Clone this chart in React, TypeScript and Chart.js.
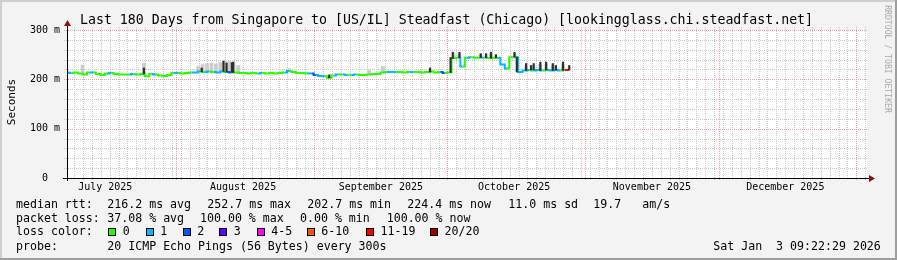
import { useEffect, useRef } from "react";
import { Chart, registerables } from "chart.js";

Chart.register(...registerables);

const DAY = 86400000;
const END = Date.UTC(2026, 0, 3, 9, 22, 29);
const START = END - 180 * DAY;

const MONTH_STARTS = [
  Date.UTC(2025, 7, 1), Date.UTC(2025, 8, 1), Date.UTC(2025, 9, 1),
  Date.UTC(2025, 10, 1), Date.UTC(2025, 11, 1), Date.UTC(2026, 0, 1),
];
const MONTH_LABEL_AT = [
  Date.UTC(2025, 6, 16), Date.UTC(2025, 7, 16), Date.UTC(2025, 8, 16),
  Date.UTC(2025, 9, 16), Date.UTC(2025, 10, 16), Date.UTC(2025, 11, 16),
];
const MONTH_LABELS = ["July 2025", "August 2025", "September 2025", "October 2025", "November 2025", "December 2025"];

const Y_TICKS = [0, 100, 200, 300];
const Y_LABELS = ["0  ", "100 m", "200 m", "300 m"];

// median rtt (ms), one sample per day from the start of the graph
const median = [
  214, 213, 214, 212, 210, 214, 214, 211, 209, 212,
  213, 211, 210, 210, 210, 211, 210, 211, 206, 211,
  210, 208, 207, 209, 213, 213, 212, 213, 214, 214,
  216, 215, 216, 215, 214, 216, 215, 214, 214, 213,
  213, 212, 213, 212, 213, 212, 213, 212, 213, 214,
  217, 215, 213, 213, 212, 212, 209, 207, 206, 203,
  208, 210, 210, 209, 209, 210, 209, 209, 210, 211,
  211, 214, 215, 215, 215, 215, 214, 215, 215, 215,
  214, 215, 216, 214, 215, 213, 214, 243, 244, 226,
  244, 245, 244, 244, 244, 243, 244, 243, 230, 222,
  245, 245, 215, 218, 219, 218, 219, 218, 219, 218,
  219, 218, 219, 219,
];
// loss class per sample: 0="0",1="1",2="2",3="3",4="4-5",5="6-10",6="11-19",7="20/20"
const loss = [
  0, 1, 0, 0, 0, 0, 1, 0, 0, 0,
  1, 0, 0, 0, 0, 1, 0, 0, 0, 0,
  1, 0, 0, 0, 0, 1, 0, 0, 0, 1,
  1, 0, 1, 0, 1, 1, 0, 2, 0, 0,
  0, 0, 0, 0, 1, 0, 0, 0, 0, 0,
  1, 0, 0, 0, 0, 1, 2, 1, 1, 0,
  0, 1, 0, 1, 0, 1, 0, 0, 0, 0,
  0, 0, 0, 1, 1, 0, 0, 0, 1, 0,
  0, 0, 0, 0, 0, 2, 0, 0, 0, 1,
  0, 1, 0, 0, 1, 0, 0, 0, 1, 1,
  0, 0, 1, 1, 1, 0, 1, 1, 0, 1,
  1, 1, 0, 6,
];

// light smoke (day offset, low, high)
const smokeDays = [3.5, 17.3, 29.5, 30.5, 31.5, 32.5, 33.5, 34.5, 35.5, 36.5, 37.5, 38.5, 50, 68, 71.1, 87, 88.3, 93, 95.4, 100.7, 103.3, 105, 106.5, 107.8, 109.3, 111.6];
const smokeLow = [212, 211, 215, 215, 215, 215, 214, 215, 215, 214, 214, 213, 216, 210, 213, 243, 244, 244, 243, 245, 219, 219, 218, 219, 218, 218];
const smokeHigh = [229, 233, 226, 230, 232, 233, 231, 234, 237, 236, 234, 228, 222, 218, 226, 252, 252, 250, 252, 252, 228, 228, 230, 230, 228, 230];

// dark smoke spikes (day offset, low, high)
const spikeDays = [17.3, 30.3, 35.2, 35.9, 37.1, 37.4, 59, 81.7, 86.3, 86.8, 88.3, 93.1, 94.3, 95.4, 96.5, 100.7, 101.2, 103.3, 104.4, 105, 106.5, 107.8, 109.3, 110, 111.6, 113];
const spikeLow = [211, 215, 216, 215, 214, 214, 203, 215, 214, 242, 244, 244, 244, 243, 244, 245, 215, 218, 219, 219, 218, 219, 218, 219, 218, 219];
const spikeHigh = [223, 223, 237, 233, 234, 235, 209, 223, 244, 255, 255, 252, 252, 255, 250, 255, 245, 232, 228, 232, 235, 235, 232, 228, 235, 228];

const LOSS_COLORS = ["#26ff00", "#00b8ff", "#0059ff", "#5e00ff", "#ff00ff", "#ff5500", "#ff0000", "#a10000"];
const LOSS_LABELS = ["0", "1", "2", "3", "4-5", "6-10", "11-19", "20/20"];
const LOSS_BOX_X = [108.3, 145.7, 182.7, 219.3, 256.7, 306.7, 366, 430];

const TITLE = "Last 180 Days from Singapore to [US/IL] Steadfast (Chicago) [lookingglass.chi.steadfast.net]";
const RTT_ITEMS: [number, string][] = [
  [16, "median rtt:"], [107.3, "216.2 ms avg"], [207.3, "252.7 ms max"], [307.3, "202.7 ms min"],
  [407.3, "224.4 ms now"], [508.3, "11.0 ms sd"], [593.3, "19.7"], [642.3, "am/s"],
];
const LOSS_ITEMS: [number, string][] = [
  [16, "packet loss:"], [107.3, "37.08 % avg"], [200, "100.00 % max"], [300, "0.00 % min"], [386.7, "100.00 % now"],
];
const PROBE_ITEMS: [number, string][] = [
  [16, "probe:"], [107.3, "20 ICMP Echo Pings (56 Bytes) every 300s"],
];
const DATE_TEXT = "Sat Jan  3 09:22:29 2026";

const MONO = '"DejaVu Sans Mono", monospace';
const MINOR_GRID = "#c8c8c8";
const MAJOR_GRID = "#eba0a0";
const ARROW = "#8b1010";

const rrdPlugin = {
  id: "rrd",
  beforeDatasetsDraw(chart: any) {
    const { ctx, chartArea: a, scales } = chart;
    const x = scales.x;
    const y = scales.y;
    ctx.save();
    ctx.fillStyle = "#ffffff";
    ctx.fillRect(a.left, a.top, a.right - a.left, a.bottom - a.top);
    ctx.lineWidth = 1;
    ctx.setLineDash([1, 1]);
    ctx.strokeStyle = MINOR_GRID;
    for (let v = 20; v <= 300; v += 20) {
      if (v % 100 === 0) continue;
      const py = Math.round(y.getPixelForValue(v)) + 0.5;
      ctx.beginPath();
      ctx.moveTo(a.left - 3, py);
      ctx.lineTo(a.right + 1, py);
      ctx.stroke();
    }
    const jan1 = MONTH_STARTS[MONTH_STARTS.length - 1];
    for (let t = jan1 + 2 * DAY; t >= START; t -= 2 * DAY) {
      if (t > END) continue;
      const px = Math.round(x.getPixelForValue(t)) + 0.5;
      ctx.beginPath();
      ctx.moveTo(px, a.top - 3);
      ctx.lineTo(px, a.bottom + 2);
      ctx.stroke();
    }
    ctx.strokeStyle = MAJOR_GRID;
    for (const v of [100, 200, 300]) {
      const py = Math.round(y.getPixelForValue(v)) + 0.5;
      ctx.beginPath();
      ctx.moveTo(a.left - 3, py);
      ctx.lineTo(a.right + 1, py);
      ctx.stroke();
    }
    for (const t of MONTH_STARTS) {
      const px = Math.round(x.getPixelForValue(t)) + 0.5;
      ctx.beginPath();
      ctx.moveTo(px, a.top - 3);
      ctx.lineTo(px, a.bottom + 3);
      ctx.stroke();
    }
    ctx.restore();
  },
  afterDatasetsDraw(chart: any) {
    const { ctx, chartArea: a } = chart;
    ctx.save();
    ctx.setLineDash([]);
    ctx.strokeStyle = "#000";
    ctx.lineWidth = 1;
    const bx = Math.round(a.left) + 0.5;
    const by = Math.round(a.bottom) + 0.5;
    ctx.beginPath();
    ctx.moveTo(a.left - 4, by);
    ctx.lineTo(a.right + 2, by);
    ctx.stroke();
    ctx.beginPath();
    ctx.moveTo(bx, a.bottom + 3);
    ctx.lineTo(bx, a.top - 4);
    ctx.stroke();
    ctx.fillStyle = ARROW;
    ctx.beginPath();
    ctx.moveTo(a.right + 2, by - 3.5);
    ctx.lineTo(a.right + 8, by);
    ctx.lineTo(a.right + 2, by + 3.5);
    ctx.closePath();
    ctx.fill();
    ctx.beginPath();
    ctx.moveTo(bx - 3.5, a.top - 4);
    ctx.lineTo(bx, a.top - 10);
    ctx.lineTo(bx + 3.5, a.top - 4);
    ctx.closePath();
    ctx.fill();
    ctx.restore();
  },
};

function Txt(props: { x: number; y: number; size: number; text: string; color?: string }) {
  return (
    <div
      style={{
        position: "absolute",
        left: props.x,
        top: props.y,
        fontSize: props.size,
        lineHeight: 1,
        whiteSpace: "pre",
        color: props.color ?? "#000",
        fontFamily: MONO,
      }}
    >
      {props.text}
    </div>
  );
}

export default function App() {
  const ref = useRef<HTMLCanvasElement>(null);
  useEffect(() => {
    document.body.style.margin = "0";
    const canvas = ref.current!;
    const medianPts = median.map((v, i) => ({ x: START + i * DAY, y: v }));
    const smokePts = smokeDays.map((d, i) => ({ x: START + d * DAY, y: [smokeLow[i], smokeHigh[i]] }));
    const spikePts = spikeDays.map((d, i) => ({ x: START + d * DAY, y: [spikeLow[i], spikeHigh[i]] }));
    const font = { family: MONO, size: 10 };
    const chart = new Chart(canvas, {
      type: "bar",
      data: {
        datasets: [
          {
            type: "bar",
            label: "smoke",
            data: smokePts as any,
            backgroundColor: "#cccccc",
            barThickness: 3,
            grouped: false,
            borderWidth: 0,
            order: 3,
          } as any,
          {
            type: "bar",
            label: "spikes",
            data: spikePts as any,
            backgroundColor: "#2e2e2e",
            barThickness: 1.5,
            grouped: false,
            borderWidth: 0,
            order: 0,
          } as any,
          {
            type: "line",
            label: "median",
            data: medianPts as any,
            borderWidth: 2,
            pointRadius: 0,
            borderColor: LOSS_COLORS[0],
            stepped: "middle",
            segment: { borderColor: (c: any) => LOSS_COLORS[loss[c.p1DataIndex]] },
            order: 1,
          } as any,
        ],
      },
      options: {
        responsive: false,
        animation: false,
        devicePixelRatio: 1,
        layout: { padding: { left: 0, right: 30, top: 30, bottom: 0 } },
        plugins: { legend: { display: false }, tooltip: { enabled: false }, title: { display: false } },
        scales: {
          x: {
            type: "linear",
            min: START,
            max: END,
            offset: false,
            grid: { display: false, drawTicks: false },
            border: { display: false },
            afterBuildTicks: (s: any) => {
              s.ticks = MONTH_LABEL_AT.map((v) => ({ value: v }));
            },
            afterFit: (s: any) => {
              s.height = 82;
            },
            ticks: {
              autoSkip: false,
              maxRotation: 0,
              padding: 3.5,
              color: "#000",
              font,
              callback: (v: any) => MONTH_LABELS[MONTH_LABEL_AT.indexOf(v)] ?? "",
            },
          },
          y: {
            min: 0,
            max: 300,
            grid: { display: false, drawTicks: false },
            border: { display: false },
            afterBuildTicks: (s: any) => {
              s.ticks = Y_TICKS.map((v) => ({ value: v }));
            },
            afterFit: (s: any) => {
              s.width = 67;
            },
            ticks: {
              padding: 7,
              color: "#000",
              font,
              callback: (v: any) => Y_LABELS[Y_TICKS.indexOf(v)] ?? "",
            },
          },
        },
      } as any,
      plugins: [rrdPlugin],
    });
    return () => chart.destroy();
  }, []);

  return (
    <div
      style={{
        position: "fixed",
        left: 0,
        top: 0,
        width: 897,
        height: 260,
        background: "#f3f3f3",
        overflow: "hidden",
        fontFamily: MONO,
      }}
    >
      <canvas ref={ref} width={897} height={260} style={{ position: "absolute", left: 0, top: 0, width: 897, height: 260 }} />
      <div style={{ position: "absolute", left: 0, top: 0, width: 897, height: 2, background: "#cfcfcf" }} />
      <div style={{ position: "absolute", left: 0, top: 0, width: 2, height: 260, background: "#cfcfcf" }} />
      <div style={{ position: "absolute", left: 0, top: 258, width: 897, height: 2, background: "#9e9e9e" }} />
      <div style={{ position: "absolute", left: 895, top: 0, width: 2, height: 260, background: "#9e9e9e" }} />
      <Txt x={80} y={12.8} size={13.24} text={TITLE} />
      <div
        style={{
          position: "absolute",
          left: 10.5,
          top: 101.7,
          fontSize: 11,
          lineHeight: 1,
          whiteSpace: "pre",
          transform: "translate(-50%,-50%) rotate(-90deg)",
        }}
      >
        Seconds
      </div>
      <div
        style={{
          position: "absolute",
          left: 888,
          top: 59,
          fontSize: 8.15,
          lineHeight: 1,
          whiteSpace: "pre",
          color: "#a8a8a8",
          transform: "translate(-50%,-50%) rotate(90deg)",
        }}
      >
        RRDTOOL / TOBI OETIKER
      </div>
      {RTT_ITEMS.map(([x, t], i) => (
        <Txt key={"r" + i} x={x} y={198.7} size={11.6} text={t} />
      ))}
      {LOSS_ITEMS.map(([x, t], i) => (
        <Txt key={"l" + i} x={x} y={212.7} size={11.6} text={t} />
      ))}
      <Txt x={16} y={226.2} size={11.6} text="loss color:" />
      {LOSS_LABELS.map((t, i) => (
        <div key={"b" + i}>
          <div
            style={{
              position: "absolute",
              left: LOSS_BOX_X[i],
              top: 227.5,
              width: 8,
              height: 8,
              boxSizing: "border-box",
              border: "1px solid #000",
              background: LOSS_COLORS[i],
            }}
          />
          <Txt x={LOSS_BOX_X[i] + 14.5} y={226.2} size={11.6} text={t} />
        </div>
      ))}
      {PROBE_ITEMS.map(([x, t], i) => (
        <Txt key={"p" + i} x={x} y={240.7} size={11.6} text={t} />
      ))}
      <Txt x={713.3} y={240.7} size={11.6} text={DATE_TEXT} />
    </div>
  );
}
